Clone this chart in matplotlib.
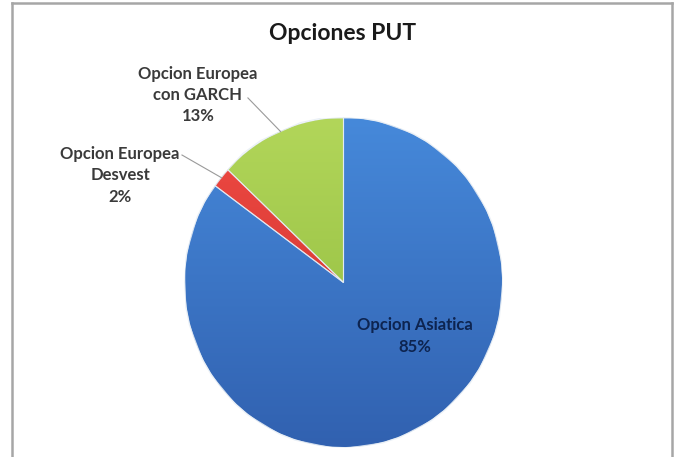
import numpy as np
import matplotlib.pyplot as plt
from matplotlib.colors import LinearSegmentedColormap

# datos del grafico
etiquetas = ["Opcion Asiatica", "Opcion Europea\nDesvest", "Opcion Europea\ncon GARCH"]
porcentajes = [85, 2, 13]
colores_top = ["#4689da", "#f04a44", "#b2d65a"]
colores_bot = ["#3161b0", "#c8302a", "#8cb83a"]

plt.rcParams['font.family'] = ['Lato', 'DejaVu Sans']

fig = plt.figure(figsize=(6.76, 4.57), dpi=100)
W, H = 676, 457

# marco del area del grafico
marco = fig.add_axes([12 / W, -0.05, (672 - 12) / W, (457 - 3) / H + 0.05])
marco.set_xticks([])
marco.set_yticks([])
for s in ["left", "right", "top"]:
    marco.spines[s].set_color("#a6a6a6")
    marco.spines[s].set_linewidth(1.8)
marco.spines["bottom"].set_visible(False)

fig.text(343 / W, 1 - 33 / H, "Opciones PUT", ha="center", va="center",
         fontsize=16.5, fontweight="bold", color="#1a1a1a")

# ejes del pastel: el rango -1..1 cubre la elipse
ax = fig.add_axes([185 / W, (457 - 447) / H, 317 / W, 329 / H])
wedges, _ = ax.pie(porcentajes, startangle=90, counterclock=False,
                   colors=colores_top, radius=1,
                   wedgeprops=dict(edgecolor="#dfe8f0", linewidth=0.8))
ax.set_aspect("auto")
ax.set_xlim(-1, 1)
ax.set_ylim(-1, 1)
ax.axis("off")

# degradado vertical dentro de cada sector
grad = np.linspace(0, 1, 256).reshape(-1, 1)
for w, c0, c1 in zip(wedges, colores_top, colores_bot):
    cmap = LinearSegmentedColormap.from_list("g", [c0, c1])
    im = ax.imshow(grad, cmap=cmap, extent=(-1, 1, -1, 1), origin="upper",
                   aspect="auto", zorder=w.get_zorder() + 0.1)
    im.set_clip_path(w)
    borde = plt.Polygon(w.get_path().vertices, closed=True, fill=False,
                        transform=w.get_transform(), edgecolor="#e6edf5",
                        linewidth=0.8, alpha=0.8, zorder=w.get_zorder() + 0.2)
    ax.add_patch(borde)

# etiquetas
txt = dict(ha="center", va="center", fontsize=12, fontweight="bold",
           linespacing=1.42, clip_on=False)
ax.text(0.451, -0.325, f"{etiquetas[0]}\n{porcentajes[0]}%", color="#0d2450", **txt)
pos_lbl = {1: (-1.41, 0.653, -1.019, 0.775), 2: (-0.918, 1.140, -0.603, 1.122)}
for i, (tx, ty, lx, ly) in pos_lbl.items():
    ax.text(tx, ty, f"{etiquetas[i]}\n{porcentajes[i]}%", color="#3a3a3a", **txt)
    w = wedges[i]
    ang = np.deg2rad((w.theta1 + w.theta2) / 2)
    ax.plot([lx, np.cos(ang)], [ly, np.sin(ang)], color="#9a9a9a",
            linewidth=0.8, clip_on=False, zorder=5)

fig.savefig("out.png", dpi=100)
